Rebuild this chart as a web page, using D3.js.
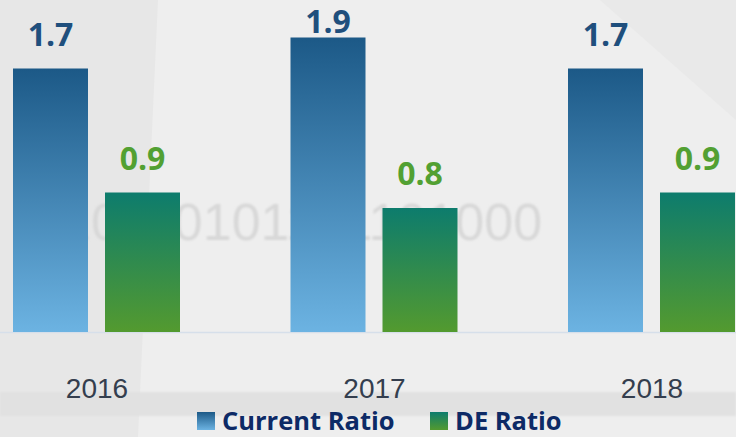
<!DOCTYPE html>
<html>
<head>
<meta charset="utf-8">
<script src="https://cdn.jsdelivr.net/npm/d3@7"></script>
<style>
  body { margin: 0; padding: 0; overflow: hidden; }
</style>
</head>
<body>
<div id="viz"></div>
<script>
// chart data
var years = ["2016", "2017", "2018"];
var currentRatio = [1.7, 1.9, 1.7];
var deRatio = [0.9, 0.8, 0.9];
var seriesNames = ["Current Ratio", "DE Ratio"];

var width = 736, height = 437;

var svg = d3.select("#viz")
    .append("svg")
    .attr("width", width)
    .attr("height", height);

var defs = svg.append("defs");

// bar gradients
var g1 = defs.append("linearGradient").attr("id", "gradCR")
    .attr("x1", 0).attr("y1", 0).attr("x2", 0).attr("y2", 1);
g1.append("stop").attr("offset", "0%").attr("stop-color", "#1c5987");
g1.append("stop").attr("offset", "100%").attr("stop-color", "#6cb3e2");

var g2 = defs.append("linearGradient").attr("id", "gradDE")
    .attr("x1", 0).attr("y1", 0).attr("x2", 0).attr("y2", 1);
g2.append("stop").attr("offset", "0%").attr("stop-color", "#0d7c6d");
g2.append("stop").attr("offset", "100%").attr("stop-color", "#539a2f");

var blur = defs.append("filter").attr("id", "soft");
blur.append("feGaussianBlur").attr("stdDeviation", 1.2);

// background (faded photo look)
svg.append("rect")
    .attr("width", width).attr("height", height)
    .attr("fill", "#e7e7e7");
svg.append("polygon")
    .attr("points", "158,0 736,0 736,437 138,437")
    .attr("fill", "#eeeeee");
svg.append("rect")
    .attr("x", 0).attr("y", 392).attr("width", width).attr("height", 24)
    .attr("fill", "#e1e1e1").attr("filter", "url(#soft)");
svg.append("polygon")
    .attr("points", "600,0 736,0 736,120")
    .attr("fill", "#e9e9e9");
svg.append("text")
    .attr("x", 62).attr("y", 240)
    .attr("font-family", "Liberation Sans, Arial, sans-serif")
    .attr("font-size", 52)
    .attr("fill", "#d8d8d8")
    .attr("filter", "url(#soft)")
    .text("10110101101101000");

// scales
var x = d3.scaleBand()
    .domain(years)
    .range([-41.75, 790.75]);

// two bars 75 wide with a 17 gap inside each year band
var xInner = d3.scaleBand()
    .domain(seriesNames)
    .range([54.75, 54.75 + 167])
    .paddingInner(17 / 92);

var y = d3.scaleLinear()
    .domain([0, 2])
    .range([332, 22]);

// baseline
svg.append("line")
    .attr("x1", 0).attr("x2", width)
    .attr("y1", y(0) + 0.5).attr("y2", y(0) + 0.5)
    .attr("stroke", "#d6dfea").attr("stroke-width", 1.5);

var rows = years.map(function (d, i) {
    return [
        { year: d, key: seriesNames[0], value: currentRatio[i] },
        { year: d, key: seriesNames[1], value: deRatio[i] }
    ];
});

var groups = svg.selectAll("g.year")
    .data(rows)
    .enter()
    .append("g")
    .attr("class", "year")
    .attr("transform", function (d) { return "translate(" + x(d[0].year) + ",0)"; });

groups.selectAll("rect")
    .data(function (d) { return d; })
    .enter()
    .append("rect")
    .attr("x", function (d) { return xInner(d.key); })
    .attr("y", function (d) { return y(d.value); })
    .attr("width", xInner.bandwidth())
    .attr("height", function (d) { return y(0) - y(d.value); })
    .style("fill", function (d) { return d.key === seriesNames[0] ? "url(#gradCR)" : "url(#gradDE)"; });

// value labels (kept inside the top edge)
groups.selectAll("text.val")
    .data(function (d) { return d; })
    .enter()
    .append("text")
    .attr("class", "val")
    .attr("x", function (d) { return xInner(d.key) + xInner.bandwidth() / 2; })
    .attr("y", function (d) { return Math.max(y(d.value) - 23, 33); })
    .attr("text-anchor", "middle")
    .attr("font-family", "Open Sans, sans-serif")
    .attr("font-weight", "bold")
    .attr("font-size", 32)
    .attr("fill", function (d) { return d.key === seriesNames[0] ? "#1f4f7d" : "#52a032"; })
    .text(function (d) { return d3.format(".1f")(d.value); });

// year labels
svg.selectAll("text.yr")
    .data(years)
    .enter()
    .append("text")
    .attr("class", "yr")
    .attr("x", function (d) { return x(d) + x.bandwidth() / 2; })
    .attr("y", 398)
    .attr("text-anchor", "middle")
    .attr("font-family", "Liberation Sans, Arial, sans-serif")
    .attr("font-size", 28)
    .attr("fill", "#343e4e")
    .text(function (d) { return d; });

// legend
var legendX = [197, 430];
var legend = svg.selectAll("g.legend")
    .data(seriesNames)
    .enter()
    .append("g")
    .attr("class", "legend")
    .attr("transform", function (d, i) { return "translate(" + legendX[i] + ",412)"; });

legend.append("rect")
    .attr("width", 18).attr("height", 18)
    .style("fill", function (d, i) { return i === 0 ? "url(#gradCR)" : "url(#gradDE)"; });

legend.append("text")
    .attr("x", 25)
    .attr("y", 18)
    .attr("font-family", "Open Sans, sans-serif")
    .attr("font-weight", "bold")
    .attr("font-size", 25.5)
    .attr("fill", "#0d2a66")
    .text(function (d) { return d; });
</script>
</body>
</html>
